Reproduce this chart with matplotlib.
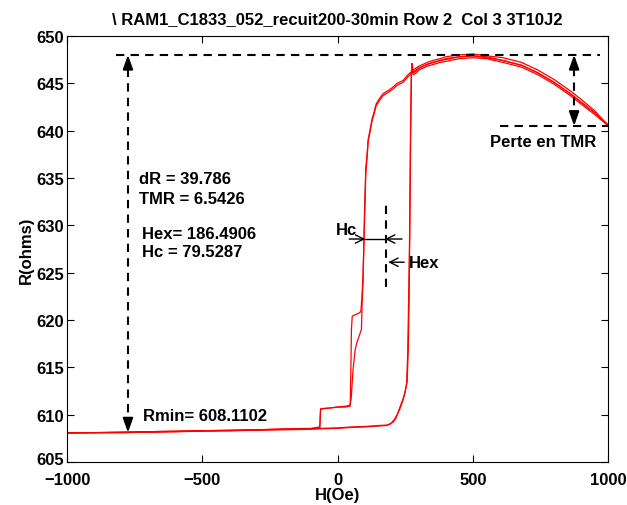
import matplotlib
matplotlib.use("Agg")
import matplotlib.pyplot as plt
import matplotlib.transforms as mtrans

plt.rcParams['font.family'] = ['Liberation Sans', 'DejaVu Sans']
plt.rcParams['font.weight'] = 'bold'
plt.rcParams['font.size'] = 12

# loop 1, field going down (1000 -> -1000)
H_dn1 = [1000, 950, 900, 860, 800, 740, 680, 612, 550, 500, 450, 400, 379, 350, 331, 300, 279, 260,
         242, 220, 205, 190, 168, 155, 142, 135, 127, 118, 113, 109, 104, 99, 94, 90, 86, 83, 70, 60,
         54, 51, 49, 47, 46, 30, 0, -30, -57, -63, -66, -100, -200, -300, -400, -500, -600, -700,
         -800, -900, -1000]
R_dn1 = [640.6, 641.9, 643.0, 643.9, 645.1, 646.1, 646.9, 647.4, 647.7, 647.9, 647.8, 647.6, 647.4,
         647.2, 647.0, 646.6, 646.2, 645.7, 645.1, 644.8, 644.4, 644.1, 643.7, 643.2, 642.6, 641.8,
         641.0, 639.6, 638.9, 637.2, 635.5, 630.0, 625.0, 622.5, 621.0, 620.8, 620.6, 620.5, 620.4,
         619.0, 615.0, 611.8, 610.9, 610.8, 610.8, 610.7, 610.6, 610.6, 608.7, 608.55, 608.5, 608.4,
         608.35, 608.3, 608.25, 608.2, 608.15, 608.1, 608.1]

# loop 2, field going down
H_dn2 = [1000, 950, 900, 860, 800, 740, 680, 612, 550, 500, 450, 400, 379, 350, 331, 300, 279, 260,
         242, 220, 205, 190, 168, 155, 142, 135, 127, 118, 113, 109, 104, 99, 94, 91, 88, 72, 65, 57,
         50, 46, 30, 0, -30, -57, -63, -66, -100, -200, -300, -400, -500, -600, -700, -800, -900, -1000]
R_dn2 = [640.5, 642.1, 643.3, 644.2, 645.4, 646.4, 647.2, 647.7, 647.9, 648.1, 648.0, 647.8, 647.6,
         647.4, 647.2, 646.8, 646.4, 645.9, 645.3, 645.0, 644.6, 644.3, 643.9, 643.4, 642.8, 642.0,
         641.2, 639.8, 639.1, 637.6, 636.0, 631.0, 624.0, 622.2, 619.0, 617.7, 616.9, 614.8, 611.7,
         611.0, 610.9, 610.8, 610.7, 610.65, 610.6, 608.6, 608.5, 608.45, 608.4, 608.3, 608.25, 608.2,
         608.15, 608.1, 608.1, 608.05]

# loop 1, field going up (-1000 -> 1000)
H_up1 = [-1000, -900, -800, -700, -600, -500, -400, -300, -200, -100, -65, 0, 50, 100, 150, 183, 205,
         215, 224, 233, 242, 250, 257, 261, 264, 267, 270, 273, 275, 277, 280, 290, 300, 331, 379, 450,
         500, 550, 612, 680, 740, 800, 860, 900, 950, 1000]
R_up1 = [608.1, 608.1, 608.15, 608.2, 608.25, 608.3, 608.35, 608.4, 608.45, 608.5, 608.55, 608.6,
         608.7, 608.75, 608.85, 608.9, 609.2, 609.6, 610.3, 611.0, 611.7, 612.5, 613.5, 616.9, 622.0,
         630.0, 640.0, 646.0, 647.1, 646.8, 646.1, 646.3, 646.6, 647.0, 647.4, 647.8, 647.9, 647.8,
         647.4, 646.9, 646.1, 645.1, 643.9, 643.0, 641.9, 640.6]

# loop 2, field going up
H_up2 = [-1000, -900, -800, -700, -600, -500, -400, -300, -200, -100, -65, 0, 50, 100, 150, 180, 195,
         210, 220, 230, 240, 248, 255, 259, 262, 266, 269, 272, 274, 277, 280, 290, 300, 331, 379, 450,
         500, 550, 612, 680, 740, 800, 860, 900, 950, 1000]
R_up2 = [608.05, 608.1, 608.1, 608.15, 608.2, 608.3, 608.3, 608.35, 608.4, 608.45, 608.5, 608.55,
         608.65, 608.7, 608.8, 608.85, 609.0, 609.5, 610.0, 610.6, 611.4, 612.2, 613.3, 616.5, 621.5,
         629.0, 639.0, 645.5, 646.8, 646.3, 645.9, 646.1, 646.4, 646.8, 647.2, 647.6, 647.7, 647.6,
         647.2, 646.7, 645.9, 644.9, 643.7, 642.8, 641.7, 640.5]

Rmin = 608.1102
Rmax = 648.0
R_fin = 640.5
H_dR = -775
H_perte = 874
Hex = 186.4906
Hc = 79.5287

fig = plt.figure(figsize=(6.27, 5.06), dpi=100)
ax = fig.add_axes([0.107, 0.085, 0.863, 0.842])

for h, r in [(H_dn1, R_dn1), (H_up1, R_up1), (H_dn2, R_dn2), (H_up2, R_up2)]:
    ax.plot(h, r, color='red', lw=0.9)

dash = dict(color='k', lw=1.5, dashes=(4, 3))
# niveau max et fin
ax.plot([-819, 970], [Rmax, Rmax], **dash)
ax.plot([601, 1000], [R_fin, R_fin], **dash)
# fleche dR
ax.plot([H_dR, H_dR], [Rmin + 0.6, Rmax - 0.6], **dash)
ax.plot([H_perte, H_perte], [R_fin + 0.6, Rmax - 0.6], **dash)
head = dict(arrowstyle='-|>,head_length=0.7,head_width=0.25', color='k', lw=1.5, shrinkA=0, shrinkB=0)
for x, y0, y1 in [(H_dR, Rmax - 1.5, Rmax), (H_dR, Rmin + 1.5, Rmin),
                  (H_perte, Rmax - 1.5, Rmax), (H_perte, R_fin + 1.5, R_fin)]:
    ax.annotate('', xy=(x, y1), xytext=(x, y0), arrowprops=head)

# Hc / Hex
y_hc = 628.55
thin = dict(arrowstyle='->,head_length=0.5,head_width=0.25', color='k', lw=1.0, shrinkA=0, shrinkB=0)
ax.plot([102, 175], [y_hc, y_hc], color='k', lw=1.0)
ax.annotate('', xy=(102, y_hc), xytext=(43, y_hc), arrowprops=thin)
ax.annotate('', xy=(175, y_hc), xytext=(238, y_hc), arrowprops=thin)
ax.plot([179, 179], [623.5, 632.3], color='k', lw=1.5, dashes=(4, 3))
ax.annotate('', xy=(187, 626.1), xytext=(246, 626.1), arrowprops=thin)
ax.text(-5, 629.6, 'Hc', va='center', ha='left')
ax.text(262, 626.1, 'Hex', va='center', ha='left')

ax.text(-734, 634.9, 'dR = 39.786', va='center')
ax.text(-734, 632.8, 'TMR = 6.5426', va='center')
ax.text(-723, 629.1, 'Hex= 186.4906', va='center')
ax.text(-723, 627.2, 'Hc = 79.5287', va='center')
ax.text(-719, 609.9, 'Rmin= %.4f' % Rmin, va='center')
ax.text(760, 638.9, 'Perte en TMR', va='center', ha='center')

ax.set_xlim(-1000, 1000)
ax.set_ylim(605, 650)
ax.set_xticks([-1000, -500, 0, 500, 1000])
ax.set_yticks(range(605, 651, 5))
ax.tick_params(direction='in', top=True, right=True, length=5)
ax.tick_params(axis='x', pad=7)
ax.tick_params(axis='y', pad=2)
for lbl in ax.get_xticklabels() + ax.get_yticklabels():
    lbl.set_fontweight('bold')
# 605 un peu plus haut pour ne pas toucher -1000
ylbl = ax.get_yticklabels()[0]
ylbl.set_transform(ylbl.get_transform() + mtrans.ScaledTranslation(0, 3 / 72, fig.dpi_scale_trans))
ax.set_xlabel('H(Oe)', labelpad=0, fontweight='bold')
ax.set_ylabel('R(ohms)', labelpad=2, fontweight='bold')
ax.set_title('\\ RAM1_C1833_052_recuit200-30min Row 2  Col 3 3T10J2', fontsize=12, fontweight='bold', pad=9)

fig.savefig('out.png', dpi=100)
